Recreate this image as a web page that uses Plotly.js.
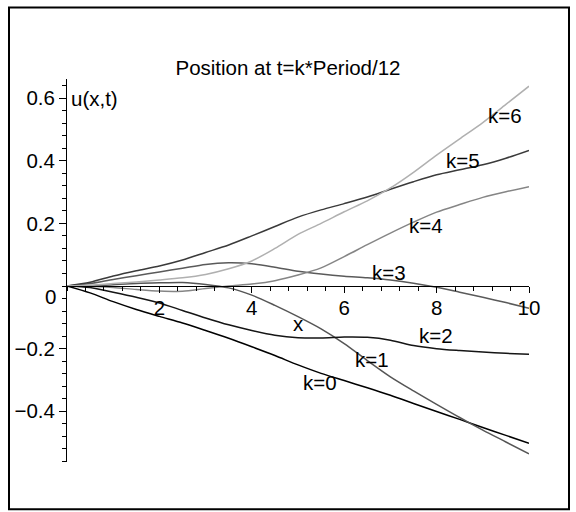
<!DOCTYPE html>
<html>
<head>
<meta charset="utf-8">
<script src="https://cdn.plot.ly/plotly-3.0.1.min.js"></script>
<style>html,body{margin:0;padding:0;background:#fff;}#chart{width:576px;height:512px;}</style>
</head>
<body>
<div id="chart"></div>
<script>
// ---- data ----
const xVals = [0, 0.5, 1, 1.5, 2, 2.5, 3, 3.5, 4, 4.5, 5, 5.5, 6, 6.5, 7, 7.5, 8, 8.5, 9, 9.5, 10];
const k0 = [0, -0.022, -0.050, -0.075, -0.097, -0.118, -0.142, -0.167, -0.194, -0.222, -0.252, -0.279, -0.302, -0.325, -0.349, -0.375, -0.401, -0.426, -0.452, -0.477, -0.502];
const k1 = [0, 0.000, 0.004, 0.008, 0.010, 0.011, 0.005, -0.006, -0.029, -0.062, -0.098, -0.137, -0.184, -0.238, -0.290, -0.335, -0.378, -0.420, -0.460, -0.498, -0.536];
const k2 = [0, -0.005, -0.020, -0.036, -0.054, -0.078, -0.102, -0.124, -0.142, -0.157, -0.165, -0.166, -0.163, -0.164, -0.173, -0.190, -0.200, -0.206, -0.211, -0.215, -0.218];
const k3 = [0, 0.008, 0.021, 0.033, 0.045, 0.057, 0.069, 0.074, 0.071, 0.060, 0.047, 0.038, 0.031, 0.026, 0.019, 0.009, -0.004, -0.020, -0.036, -0.053, -0.071];
const k4 = [0, -0.001, -0.005, -0.011, -0.016, -0.017, -0.008, 0.000, 0.006, 0.017, 0.035, 0.058, 0.094, 0.132, 0.169, 0.204, 0.236, 0.260, 0.283, 0.301, 0.317];
const k5 = [0, 0.012, 0.032, 0.049, 0.064, 0.083, 0.107, 0.131, 0.160, 0.190, 0.220, 0.243, 0.263, 0.284, 0.309, 0.333, 0.355, 0.371, 0.387, 0.408, 0.433];
const k6 = [0, 0.003, 0.008, 0.013, 0.019, 0.026, 0.037, 0.055, 0.080, 0.120, 0.165, 0.200, 0.237, 0.272, 0.313, 0.363, 0.418, 0.470, 0.522, 0.580, 0.638];
const seriesNames = ['k=0', 'k=1', 'k=2', 'k=3', 'k=4', 'k=5', 'k=6'];
const xTickVals = [2, 4, 6, 8, 10];
const xTickText = ['2', '4', '6', '8', '10'];
const yTickVals = [-0.4, -0.2, 0.2, 0.4, 0.6];
const yTickText = ['\u22120.4', '\u22120.2', '0.2', '0.4', '0.6'];

// ---- styling ----
const series = [k0, k1, k2, k3, k4, k5, k6];
const colors = ['#000000', '#555555', '#151515', '#5a5a5a', '#858585', '#3a3a3a', '#b0b0b0'];
const FONT = 'Liberation Sans, Arial, Helvetica, sans-serif';
const FS = 20.5;

const traces = series.map((ys, i) => ({
  x: xVals, y: ys, type: 'scatter', mode: 'lines', name: seriesNames[i],
  line: {color: colors[i], width: 1.5, shape: 'spline', smoothing: 0.8},
  hoverinfo: 'skip'
}));

const yMin = -0.562, yMax = 0.661;
const labelPos = [[5.48, -0.309], [6.61, -0.235], [7.98, -0.158], [6.98, 0.043], [7.77, 0.193], [8.58, 0.401], [9.48, 0.546]];

const annotations = seriesNames.map((t, i) => ({
  x: labelPos[i][0], y: labelPos[i][1], xref: 'x', yref: 'y', text: t, showarrow: false,
  xanchor: 'center', yanchor: 'middle', font: {family: FONT, size: FS, color: '#000'}
}));
annotations.push({x: 5, y: -0.12, xref: 'x', yref: 'y', text: 'x', showarrow: false,
  xanchor: 'center', yanchor: 'middle', font: {family: FONT, size: FS, color: '#000'}});
annotations.push({x: 0, y: 0.6, xref: 'paper', yref: 'y', text: 'u(x,t)', showarrow: false,
  xanchor: 'left', yanchor: 'middle', xshift: 2, font: {family: FONT, size: FS, color: '#000'}});
annotations.push({x: 0, y: 0, xref: 'paper', yref: 'y', text: '0', showarrow: false,
  xanchor: 'right', yanchor: 'middle', xshift: -9, yshift: -10, font: {family: FONT, size: FS, color: '#000'}});

const layout = {
  width: 576, height: 512,
  margin: {l: 67, r: 47, t: 79.3, b: 50.3, pad: 0},
  paper_bgcolor: '#fff', plot_bgcolor: '#fff',
  showlegend: false,
  font: {family: FONT, size: FS, color: '#000'},
  title: {text: 'Position at t=k*Period/12', x: 0.5, xref: 'container', xanchor: 'center',
          y: 1 - 67.5 / 512, yref: 'container', yanchor: 'middle',
          font: {family: FONT, size: FS, color: '#000'}},
  xaxis: {
    range: [0, 10], showgrid: false, zeroline: false, showline: true, linecolor: '#000', linewidth: 1,
    anchor: 'free', position: (0 - yMin) / (yMax - yMin),
    tickmode: 'array', tickvals: xTickVals, ticktext: xTickText,
    ticks: 'outside', ticklen: 6, tickwidth: 1, tickcolor: '#000',
    ticklabelstandoff: -3,
    minor: {dtick: 0.4, tick0: 0, ticks: 'outside', ticklen: 3.5, tickwidth: 1, tickcolor: '#000', showgrid: false},
    tickfont: {family: FONT, size: FS, color: '#000'}, fixedrange: true
  },
  yaxis: {
    range: [yMin, yMax], showgrid: false, zeroline: false, showline: true, linecolor: '#000', linewidth: 1,
    tickmode: 'array', tickvals: yTickVals, ticktext: yTickText,
    ticks: 'outside', ticklen: 7, tickwidth: 1, tickcolor: '#000',
    ticklabelstandoff: 0,
    minor: {dtick: 0.04, tick0: 0, ticks: 'outside', ticklen: 4, tickwidth: 1, tickcolor: '#000', showgrid: false},
    tickfont: {family: FONT, size: FS, color: '#000'}, fixedrange: true
  },
  annotations: annotations,
  shapes: [{type: 'rect', xref: 'paper', yref: 'paper',
            x0: (9 - 67) / 462, x1: (569 - 67) / 462,
            y0: (461.7 - 509) / 382.4, y1: (461.7 - 8) / 382.4,
            line: {color: '#000', width: 2}, fillcolor: 'rgba(0,0,0,0)', layer: 'above'}]
};

Plotly.newPlot('chart', traces, layout, {staticPlot: true, displayModeBar: false});
</script>
</body>
</html>
